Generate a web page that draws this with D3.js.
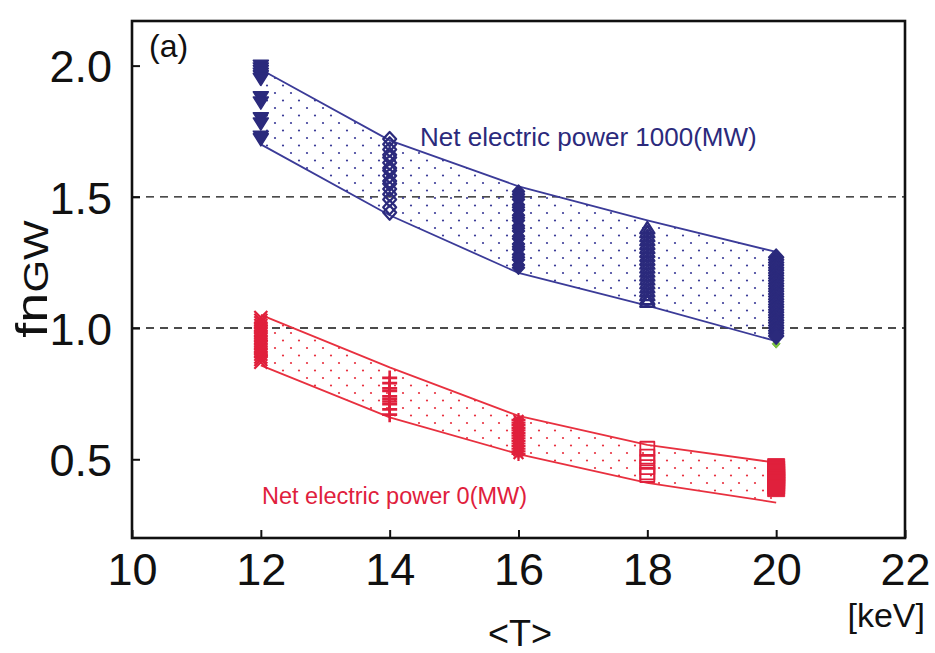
<!DOCTYPE html>
<html>
<head>
<meta charset="utf-8">
<script src="https://cdn.jsdelivr.net/npm/d3@7"></script>
<style>
  html, body { margin: 0; padding: 0; background: #fff; }
  svg { display: block; font-family: "Liberation Sans", Arial, Helvetica, sans-serif; }
</style>
</head>
<body>
<svg id="chart" width="935" height="653"></svg>
<script>
// Temperature grid and band limits (fn_GW)
const temps = [12, 14, 16, 18, 20];
const blueUpper = [1.985, 1.715, 1.54, 1.41, 1.29];
const blueLower = [1.70, 1.43, 1.21, 1.085, 0.95];
const redUpper = [1.05, 0.85, 0.665, 0.555, 0.487];
const redLower = [0.858, 0.66, 0.52, 0.41, 0.335];

// Scanned operating points, net electric power 1000 MW
const blue12 = [2.00, 1.99, 1.98, 1.97, 1.96, 1.95, 1.88, 1.86, 1.80, 1.78, 1.73, 1.72];
const blue14 = [1.72, 1.70, 1.68, 1.66, 1.65, 1.63, 1.61, 1.60, 1.58, 1.56, 1.55, 1.53, 1.51, 1.49, 1.46, 1.44];
const blue16 = [1.52, 1.51, 1.50, 1.49, 1.47, 1.46, 1.45, 1.43, 1.42, 1.41, 1.39, 1.38, 1.37, 1.35, 1.34, 1.32, 1.31, 1.30, 1.28, 1.27, 1.26, 1.24, 1.23];
const blue18 = [1.38, 1.365, 1.35, 1.335, 1.32, 1.305, 1.29, 1.275, 1.26, 1.245, 1.23, 1.215, 1.20, 1.185, 1.17, 1.155, 1.14, 1.125, 1.11, 1.10];
const blue20 = [1.27, 1.26, 1.25, 1.24, 1.23, 1.22, 1.21, 1.20, 1.19, 1.18, 1.17, 1.16, 1.15, 1.14, 1.13, 1.12, 1.11, 1.10, 1.09, 1.08, 1.07, 1.06, 1.05, 1.04, 1.03, 1.02, 1.01, 1.00, 0.99, 0.98, 0.97];
const green20 = [0.94];

// Scanned operating points, net electric power 0 MW
const red12 = [1.04, 1.03, 1.02, 1.01, 1.00, 0.99, 0.98, 0.97, 0.96, 0.95, 0.94, 0.93, 0.92, 0.91, 0.90, 0.89, 0.88, 0.87];
const red14 = [0.81, 0.79, 0.77, 0.76, 0.74, 0.73, 0.72, 0.71, 0.69, 0.67];
const red16 = [0.65, 0.64, 0.63, 0.62, 0.61, 0.60, 0.59, 0.58, 0.57, 0.56, 0.55, 0.54, 0.53, 0.52];
const red18 = [0.54, 0.51, 0.49, 0.47, 0.45, 0.44];
const red20 = [0.47, 0.46, 0.45, 0.44, 0.43, 0.42, 0.41, 0.40, 0.39];

const xTicks = [10, 12, 14, 16, 18, 20, 22];
const yTicks = [0.5, 1.0, 1.5, 2.0];
const refLines = [1.0, 1.5];

const NAVY = "#2b2a7c", NAVY_LINE = "#3b3b98", RED = "#e0203c", RED_LINE = "#e8303f";

const svg = d3.select("#chart");
const x = d3.scaleLinear().domain([10, 22]).range([132, 905]);
const y = d3.scaleLinear().domain([0.2, 2.17]).range([538, 21]);

// Dot fill patterns for the bands
const defs = svg.append("defs");
function dotPattern(id, color) {
  const p = defs.append("pattern").attr("id", id).attr("patternUnits", "userSpaceOnUse")
    .attr("width", 16).attr("height", 15);
  p.append("circle").attr("cx", 3).attr("cy", 3).attr("r", 1.1).attr("fill", color);
  p.append("circle").attr("cx", 11).attr("cy", 10.5).attr("r", 1.1).attr("fill", color);
}
dotPattern("dotsBlue", NAVY_LINE);
dotPattern("dotsRed", RED_LINE);

// Reference dashed lines
svg.selectAll("line.ref").data(refLines).join("line").attr("class", "ref")
  .attr("x1", x(10)).attr("x2", x(22)).attr("y1", d => y(d)).attr("y2", d => y(d))
  .attr("stroke", "#111").attr("stroke-width", 1.4).attr("stroke-dasharray", "8,6");

// Bands
function band(upper, lower, fillId, color) {
  const pts = temps.map((t, i) => [x(t), y(upper[i])])
    .concat(temps.map((t, i) => [x(t), y(lower[i])]).reverse());
  svg.append("path").attr("d", "M" + pts.join("L") + "Z").attr("fill", `url(#${fillId})`).attr("stroke", "none");
  const line = d3.line().x((d, i) => x(temps[i])).y(d => y(d));
  svg.append("path").attr("d", line(upper)).attr("fill", "none").attr("stroke", color).attr("stroke-width", 1.8);
  svg.append("path").attr("d", line(lower)).attr("fill", "none").attr("stroke", color).attr("stroke-width", 1.8);
}
band(blueUpper, blueLower, "dotsBlue", NAVY_LINE);
band(redUpper, redLower, "dotsRed", RED_LINE);

// Marker shapes (path generators centred at 0,0)
const shapes = {
  triDown: s => `M${-s},${-s * 0.7}L${s},${-s * 0.7}L0,${s * 0.9}Z`,
  triUp: s => `M${-s},${s * 0.7}L${s},${s * 0.7}L0,${-s * 0.9}Z`,
  diamond: s => `M0,${-s * 1.1}L${s},0L0,${s * 1.1}L${-s},0Z`,
  plus: s => `M${-s},0L${s},0M0,${-s}L0,${s}`,
  cross: s => `M${-s},${-s}L${s},${s}M${-s},${s}L${s},${-s}`,
  star: s => `M${-s},0L${s},0M0,${-s}L0,${s}M${-s * 0.7},${-s * 0.7}L${s * 0.7},${s * 0.7}M${-s * 0.7},${s * 0.7}L${s * 0.7},${-s * 0.7}`,
  square: s => `M${-s},${-s}L${s},${-s}L${s},${s}L${-s},${s}Z`
};

function markers(t, values, shape, size, color, filled, sw) {
  svg.append("g").selectAll("path").data(values).join("path")
    .attr("transform", d => `translate(${x(t)},${y(d)})`)
    .attr("d", shapes[shape](size))
    .attr("fill", filled ? color : "none")
    .attr("stroke", color).attr("stroke-width", sw).attr("stroke-linejoin", "round");
}
markers(12, blue12, "triDown", 7.5, NAVY, true, 1.5);
markers(14, blue14, "diamond", 6.5, NAVY, false, 2.2);
markers(16, blue16, "diamond", 6, NAVY, true, 1.5);
markers(18, blue18, "triUp", 7, NAVY, false, 2.4);
markers(20, green20, "diamond", 4, "#7cc243", true, 1);
markers(20, blue20, "diamond", 7.5, NAVY, true, 1.5);

markers(12, red12, "cross", 6.5, RED, false, 2.2);
markers(14, red14, "plus", 7.5, RED, false, 2.6);
markers(16, red16, "star", 7, RED, false, 2.2);
markers(18, red18, "square", 7, RED, false, 1.8);
markers(20, red20, "square", 8.5, RED, true, 1);

// Axes with inward ticks
const xAxis = d3.axisBottom(x).tickValues(xTicks).tickSize(-8).tickPadding(15).tickFormat(d3.format("d"));
const yAxis = d3.axisLeft(y).tickValues(yTicks).tickSize(-8).tickPadding(20).tickFormat(d3.format(".1f"));
const gx = svg.append("g").attr("transform", `translate(0,${y(0.2)})`).call(xAxis);
const gy = svg.append("g").attr("transform", `translate(${x(10)},0)`).call(yAxis);
[gx, gy].forEach(g => {
  g.select(".domain").remove();
  g.selectAll(".tick line").attr("stroke", "#111").attr("stroke-width", 2);
  g.selectAll(".tick text").attr("fill", "#111").attr("font-size", 45)
    .attr("font-family", "Liberation Sans, Arial, sans-serif");
});
gx.selectAll(".tick text").attr("dy", "0.71em");
gy.selectAll(".tick text").attr("dy", "0.36em");

// Frame
svg.append("rect").attr("x", x(10)).attr("y", y(2.17)).attr("width", x(22) - x(10)).attr("height", y(0.2) - y(2.17))
  .attr("fill", "none").attr("stroke", "#111").attr("stroke-width", 2.6);

// Annotations
svg.append("text").attr("x", 149).attr("y", 57).attr("font-size", 32).attr("fill", "#111").text("(a)");
svg.append("text").attr("x", 420).attr("y", 146).attr("font-size", 26).attr("fill", NAVY).text("Net electric power 1000(MW)");
svg.append("text").attr("x", 262).attr("y", 504).attr("font-size", 23.5).attr("fill", RED).text("Net electric power 0(MW)");

// Axis titles
const yl = svg.append("text").attr("transform", "translate(47,279) rotate(-90) scale(1.2,1)")
  .attr("text-anchor", "middle").attr("fill", "#111").attr("font-size", 45);
yl.append("tspan").text("fn");
yl.append("tspan").attr("font-size", 35).attr("dy", 1).text("GW");
svg.append("text").attr("x", 520).attr("y", 646).attr("text-anchor", "middle").attr("font-size", 36).attr("fill", "#111").text("<T>");
svg.append("text").attr("x", 925).attr("y", 627).attr("text-anchor", "end").attr("font-size", 34).attr("fill", "#111").text("[keV]");
</script>
</body>
</html>
